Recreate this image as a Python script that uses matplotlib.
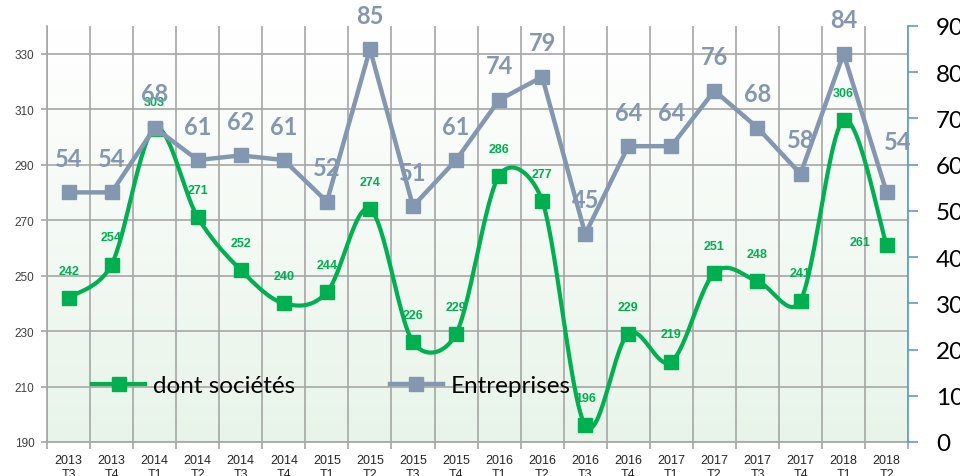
import numpy as np
import matplotlib.pyplot as plt
from matplotlib.lines import Line2D
from matplotlib.colors import LinearSegmentedColormap

# --- données ---
periodes = ["2013\nT3", "2013\nT4", "2014\nT1", "2014\nT2", "2014\nT3", "2014\nT4",
            "2015\nT1", "2015\nT2", "2015\nT3", "2015\nT4", "2016\nT1", "2016\nT2",
            "2016\nT3", "2016\nT4", "2017\nT1", "2017\nT2", "2017\nT3", "2017\nT4",
            "2018\nT1", "2018\nT2"]
societes = [242, 254, 303, 271, 252, 240, 244, 274, 226, 229, 286, 277,
            196, 229, 219, 251, 248, 241, 306, 261]
entreprises = [54, 54, 68, 61, 62, 61, 52, 85, 51, 61, 74, 79,
               45, 64, 64, 76, 68, 58, 84, 54]
ticks_gauche = [190, 210, 230, 250, 270, 290, 310, 330]
ticks_droite = [0, 10, 20, 30, 40, 50, 60, 70, 80, 90]

VERT = '#00B050'
GRIS = '#8497B0'
BLEU = '#5B9BD5'
GRILLE = '#A6A6A6'


def courbe_lisse(ax, xs, ys, n=30):
    # lissage facon Excel : Bezier, tangentes limitees a la moitie du segment
    pts = ax.transData.transform(np.column_stack([xs, ys]))
    p = np.vstack([pts[0], pts, pts[-1]])
    t = np.linspace(0, 1, n)[:, None]
    segs = []
    for i in range(1, len(p) - 2):
        p0, p1, p2, p3 = p[i - 1], p[i], p[i + 1], p[i + 2]
        d02 = np.linalg.norm(p2 - p0)
        d12 = np.linalg.norm(p2 - p1)
        d13 = np.linalg.norm(p3 - p1)
        f0 = d12 / (2 * d02) if d02 / 6 >= d12 / 2 else 1 / 6
        f3 = d12 / (2 * d13) if d13 / 6 >= d12 / 2 else 1 / 6
        c1 = p1 + (p2 - p0) * f0
        c2 = p2 - (p3 - p1) * f3
        segs.append((1 - t)**3 * p1 + 3 * (1 - t)**2 * t * c1 + 3 * (1 - t) * t**2 * c2 + t**3 * p2)
    return ax.transData.inverted().transform(np.vstack(segs))


fig = plt.figure(figsize=(9.6, 4.77), dpi=100, facecolor='white')
ax = fig.add_axes([0.049, 0.0713, 0.897, 0.8721])
ax2 = ax.twinx()

x = np.arange(len(periodes))

# fond degrade blanc -> vert pale
cmap = LinearSegmentedColormap.from_list('fond', ['#E8F4E9', '#FFFFFF'])
grad = np.linspace(0, 1, 256)[:, None]
ax.imshow(grad, extent=[0, 1, 0, 1], transform=ax.transAxes, cmap=cmap,
          aspect='auto', origin='lower', zorder=0)
ax.set_xlim(-0.5, len(periodes) - 0.5)
ax.set_ylim(190, 340)
ax2.set_ylim(0, 90)

# grille
ax.set_yticks(ticks_gauche)
ax.set_xticks(x)
ax.set_xticklabels(periodes, fontsize=9, family='Liberation Sans', color='#262626',
                   linespacing=1.15)
ax.set_xticks(np.arange(-0.5, len(periodes)), minor=True)
ax.tick_params(axis='x', which='major', length=0, pad=9)
ax.tick_params(axis='x', which='minor', length=5, color=GRILLE, width=1.2)
ax.tick_params(axis='y', length=4, color=GRILLE, width=1.2, pad=5, labelsize=8.5,
               labelcolor='#404040')
for lab in ax.get_yticklabels():
    lab.set_family('Liberation Sans')
ax.grid(True, axis='y', which='major', color=GRILLE, lw=1.2, zorder=1)
ax.grid(True, axis='x', which='minor', color=GRILLE, lw=1.2, zorder=1)
ax.set_axisbelow(True)
for s in ['top', 'right']:
    ax.spines[s].set_visible(False)
ax.spines['left'].set_color(GRILLE)
ax.spines['bottom'].set_color(GRILLE)
ax.spines['left'].set_linewidth(1.2)
ax.spines['bottom'].set_linewidth(1.2)

# axe droit
for s in ['top', 'left', 'bottom']:
    ax2.spines[s].set_visible(False)
ax2.spines['right'].set_color(BLEU)
ax2.spines['right'].set_linewidth(1.2)
ax2.set_yticks(ticks_droite)
ax2.tick_params(axis='y', length=7, color=BLEU, width=1.2, pad=13, labelsize=17.5)
for lab in ax2.get_yticklabels():
    lab.set_family('Lato')

# dont societes : courbe lissee
lisse = courbe_lisse(ax, x, societes)
ax.plot(lisse[:, 0], lisse[:, 1], color=VERT, lw=3, zorder=3, solid_capstyle='round')
ax.plot(x, societes, ls='none', marker='s', ms=10.5, color=VERT, zorder=4)
for i, v in enumerate(societes):
    off = (-19, 2) if i == len(societes) - 1 else (0, 19.5)
    ax.annotate(str(v), (i, v), xytext=off, textcoords='offset points', ha='center',
                va='center', fontsize=9, fontweight='bold', color=VERT,
                family='Liberation Sans', zorder=3)

# entreprises : lignes droites
ax2.plot(x, entreprises, color=GRIS, lw=3.2, marker='s', ms=10.5, zorder=3)
for i, v in enumerate(entreprises):
    off = (8, 37) if i == len(entreprises) - 1 else (0, 24.5)
    ax2.annotate(str(v), (i, v), xytext=off, textcoords='offset points', ha='center',
                 va='center', fontsize=17, fontweight='bold', color=GRIS, family='Lato',
                 zorder=5, annotation_clip=False)

handles = [Line2D([], [], color=VERT, lw=3, marker='s', ms=10.5),
           Line2D([], [], color=GRIS, lw=3.2, marker='s', ms=10.5)]
ax2.legend(handles, ['dont sociétés', 'Entreprises'], ncol=2, frameon=False,
           loc='center', bbox_to_anchor=(0.33, 0.135), prop={'family': 'Lato', 'size': 17.5},
           handlelength=2.2, handletextpad=0.3, columnspacing=3.9)

fig.savefig('out.png', dpi=100)
